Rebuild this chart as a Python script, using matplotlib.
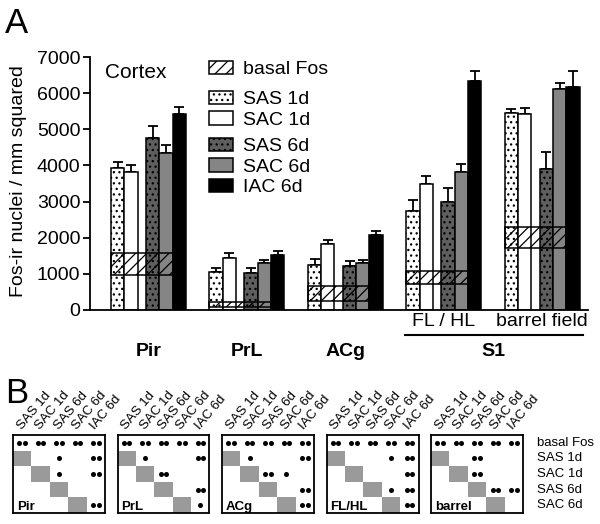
import numpy as np
import matplotlib
matplotlib.use("Agg")
import matplotlib.pyplot as plt
from matplotlib.patches import Patch
from matplotlib.colors import ListedColormap

plt.rcParams['font.family'] = ['Liberation Sans', 'DejaVu Sans']
plt.rcParams['hatch.linewidth'] = 0.9

# ---------------- data ----------------
regions = ['Pir', 'PrL', 'ACg', 'FL / HL', 'barrel field']
series = ['SAS 1d', 'SAC 1d', 'SAS 6d', 'SAC 6d', 'IAC 6d']
sas1d = [3920, 1060, 1245, 2750, 5440]
sac1d = [3830, 1430, 1830, 3480, 5420]
sas6d = [4760, 1030, 1220, 3000, 3890]
sac6d = [4340, 1290, 1290, 3810, 6110]
iac6d = [5420, 1520, 2075, 6340, 6170]
sas1d_err = [185, 90, 160, 295, 120]
sac1d_err = [185, 160, 110, 240, 180]
sas6d_err = [330, 140, 140, 370, 490]
sac6d_err = [230, 90, 90, 220, 180]
iac6d_err = [210, 120, 110, 280, 440]
basal_low = [970, 90, 250, 710, 1710]
basal_high = [1570, 230, 660, 1090, 2290]

# panel B significance (0 none, 1 = one dot, 2 = two dots)
row_labels = ['basal Fos', 'SAS 1d', 'SAC 1d', 'SAS 6d', 'SAC 6d']
col_labels = ['SAS 1d', 'SAC 1d', 'SAS 6d', 'SAC 6d', 'IAC 6d']
matrix_names = ['Pir', 'PrL', 'ACg', 'FL/HL', 'barrel']
sig_pir = [[2, 2, 2, 2, 2], [0, 0, 1, 0, 2], [0, 0, 1, 0, 2], [0, 0, 0, 0, 0], [0, 0, 0, 0, 2]]
sig_prl = [[2, 2, 2, 2, 2], [0, 1, 0, 0, 2], [0, 0, 2, 0, 0], [0, 0, 0, 0, 2], [0, 0, 0, 0, 1]]
sig_acg = [[2, 2, 2, 2, 2], [0, 1, 0, 0, 2], [0, 0, 2, 1, 0], [0, 0, 0, 0, 2], [0, 0, 0, 0, 2]]
sig_flhl = [[2, 2, 2, 2, 2], [0, 0, 0, 1, 2], [0, 0, 0, 0, 2], [0, 0, 0, 1, 2], [0, 0, 0, 0, 2]]
sig_barrel = [[2, 2, 2, 2, 2], [0, 0, 2, 0, 0], [0, 0, 2, 0, 0], [0, 0, 0, 2, 2], [0, 0, 0, 0, 0]]

# ---------------- styles ----------------
W, H = 600, 524
fig = plt.figure(figsize=(W / 100, H / 100), dpi=100)

def fx(px):
    return px / W

def fy(py):
    return 1 - py / H

styles = [
    dict(facecolor='white', hatch='...'),
    dict(facecolor='white', hatch=None),
    dict(facecolor='#5e5e5e', hatch='...'),
    dict(facecolor='#858585', hatch=None),
    dict(facecolor='black', hatch=None),
]
values = [sas1d, sac1d, sas6d, sac6d, iac6d]
errors = [sas1d_err, sac1d_err, sas6d_err, sac6d_err, iac6d_err]

group_step = 7.4
offsets = [0, 1, 2.63, 3.63, 4.63]

axA = fig.add_axes([fx(90), fy(310), fx(498), 253 / H])
ng = len(regions)
gleft = np.arange(ng) * group_step
for k in range(5):
    xs = gleft + offsets[k] + 0.5
    axA.bar(xs, values[k], width=1.0, edgecolor='black', linewidth=1.1,
            zorder=2, **styles[k])
    axA.errorbar(xs, values[k], yerr=[np.zeros(ng), errors[k]], fmt='none',
                 ecolor='black', elinewidth=1.3, capsize=3.5, capthick=1.3, zorder=1)
# basal band
axA.bar(gleft, np.array(basal_high) - np.array(basal_low), bottom=basal_low,
        width=offsets[3] + 1, align='edge', facecolor='none', edgecolor='black',
        hatch='///', linewidth=1.1, zorder=3)

axA.set_xlim(-1.58, 35.86)
axA.set_ylim(0, 7000)
axA.set_yticks(range(0, 7001, 1000))
axA.set_xticks([])
for s in ['top', 'right']:
    axA.spines[s].set_visible(False)
axA.spines['left'].set_linewidth(1.3)
axA.spines['bottom'].set_linewidth(1.3)
axA.tick_params(axis='y', labelsize=14, length=5, width=1.3, pad=2)
axA.set_ylabel('Fos-ir nuclei / mm squared', fontsize=14)
axA.yaxis.set_label_coords(-0.127, 0.51)

tr = axA.get_xaxis_transform()
centers = gleft + (offsets[-1] + 1) / 2
for i in range(3):
    axA.text(centers[i], -0.166, regions[i], transform=tr, ha='center', va='center',
             fontsize=14, fontweight='bold')
for i in range(3, 5):
    axA.text(centers[i], -0.047, regions[i], transform=tr, ha='center', va='center',
             fontsize=14)
axA.plot([gleft[3] - 0.1, gleft[4] + 5.9], [-0.099, -0.099], transform=tr,
         color='black', lw=1.5, clip_on=False)
axA.text((gleft[3] + gleft[4] + offsets[-1] + 1) / 2, -0.166, 'S1', transform=tr,
         ha='center', va='center', fontsize=14, fontweight='bold')

fig.text(fx(105), fy(78), 'Cortex', fontsize=15, va='baseline')
fig.text(fx(5), fy(33), 'A', fontsize=25, va='baseline')
fig.text(fx(5), fy(403), 'B', fontsize=25, va='baseline')

# legends
def mk(st):
    return Patch(edgecolor='black', linewidth=1.1, **st)

leg_groups = [
    ([mk(dict(facecolor='white', hatch='///'))], ['basal Fos'], 61),
    ([mk(styles[0]), mk(styles[1])], series[:2], 91),
    ([mk(styles[2]), mk(styles[3]), mk(styles[4])], series[2:], 138),
]
for hs, ls, ytop in leg_groups:
    lg = fig.legend(hs, ls, loc='upper left', bbox_to_anchor=(fx(209), fy(ytop)),
                    frameon=False, fontsize=14, borderpad=0, borderaxespad=0,
                    handlelength=1.25, handleheight=0.68, handletextpad=0.5,
                    labelspacing=0.15)

# ---------------- panel B ----------------
sigs = [sig_pir, sig_prl, sig_acg, sig_flhl, sig_barrel]
cmap = ListedColormap(['white', '#9a9a9a'])
for i, (name, sig) in enumerate(zip(matrix_names, sigs)):
    ax = fig.add_axes([fx(13 + 104.5 * i), fy(513), fx(92), 78 / H])
    mask = np.array([[1 if row_labels[r] == col_labels[c] else 0 for c in range(5)]
                     for r in range(5)])
    ax.pcolormesh(np.arange(6), np.arange(6), mask, cmap=cmap, vmin=0, vmax=1)
    ax.set_xlim(0, 5)
    ax.set_ylim(5, 0)
    ax.set_xticks([])
    ax.set_yticks([])
    for s in ax.spines.values():
        s.set_linewidth(1.3)
    sig = np.array(sig)
    px, py = [], []
    for r in range(5):
        for c in range(5):
            n = sig[r, c]
            if n == 1:
                px.append(c + 0.5); py.append(r + 0.5)
            elif n == 2:
                px += [c + 0.35, c + 0.65]; py += [r + 0.5, r + 0.5]
    ax.scatter(px, py, s=13, color='black', linewidths=0, zorder=3)
    for c, lab in enumerate(col_labels):
        ax.text(c + 0.6, -0.2, lab, rotation=50, ha='left', va='bottom',
                rotation_mode='anchor', fontsize=9.5, clip_on=False)
    ax.text(0.04, 0.035, name, transform=ax.transAxes, fontsize=9.5,
            fontweight='bold', va='baseline', ha='left')
    if i == 4:
        for r, lab in enumerate(row_labels):
            ax.text(1.15, r + 0.5, lab, transform=ax.get_yaxis_transform(),
                    fontsize=9.5, va='center', ha='left')

fig.savefig('out.png', dpi=100)
